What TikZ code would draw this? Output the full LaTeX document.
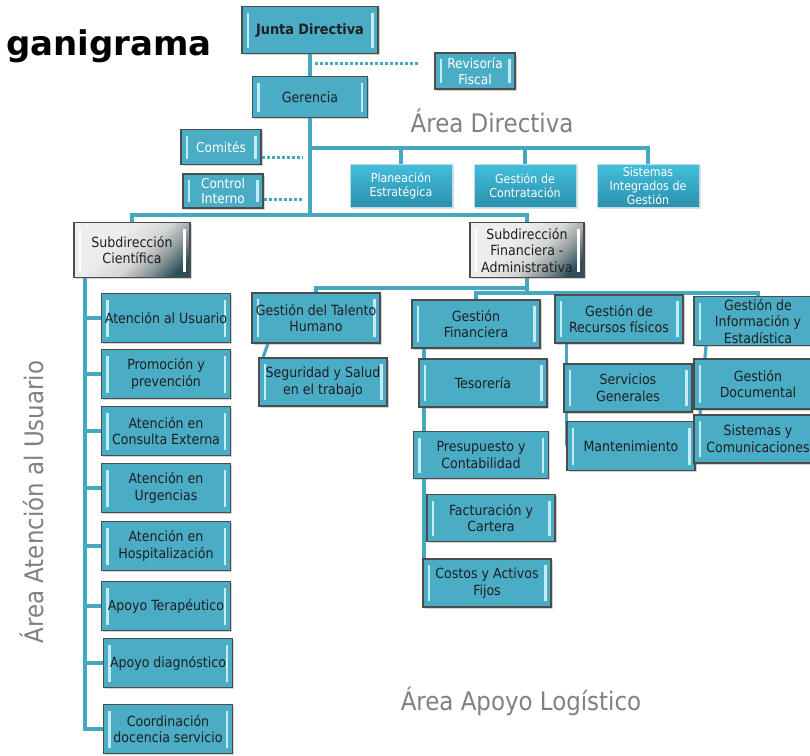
\documentclass[tikz,border=0pt]{standalone}
\usepackage{fontspec}
\usepackage{tikz}
\usetikzlibrary{positioning}
\usetikzlibrary{backgrounds}
\usetikzlibrary{shadows}
\newfontfamily\boxfont{DejaVu Sans Condensed}
\newfontfamily\titlefont{DejaVu Sans}
\definecolor{boxteal}{HTML}{4BACC6}
\definecolor{bevelcyan}{HTML}{C2ECF6}
\definecolor{linkteal}{HTML}{46A7C1}
\definecolor{areagray}{HTML}{808080}
\definecolor{dirtop}{HTML}{44BEDC}
\definecolor{dirbottom}{HTML}{2A8FAC}
\definecolor{subdark}{HTML}{2A4F59}
\pgfdeclareverticalshading{subshade}{100bp}{color(0bp)=(subdark); color(22bp)=(subdark); color(33bp)=(subdark!45!gray!70); color(45bp)=(gray!32); color(60bp)=(gray!15); color(100bp)=(gray!10)}
\tikzset{basic box/.style={draw,rectangle,align=center,inner sep=1pt}}
\tikzset{bevel/.style={path picture={
  \fill[#1] ([xshift=4.5pt,yshift=-6pt]path picture bounding box.north west)
    rectangle ([xshift=7pt,yshift=6pt]path picture bounding box.south west);
  \fill[#1] ([xshift=-4.5pt,yshift=-6pt]path picture bounding box.north east)
    rectangle ([xshift=-7pt,yshift=6pt]path picture bounding box.south east);
  }}}
\tikzset{unit box/.style={basic box,
                          draw=black!70,
                          line width=1.2pt,
                          fill=boxteal,
                          text=black!88,
                          minimum width=128pt,
                          minimum height=48pt,
                          font=\boxfont\fontsize{14}{16.5}\selectfont,
                          drop shadow={opacity=.35,shadow xshift=1.5pt,shadow yshift=-1.5pt},
                          bevel=bevelcyan}}
\tikzset{link/.style={draw=linkteal,line width=3.2pt}}
\tikzset{dotlink/.style={draw=linkteal,line width=3pt,dash pattern=on 3pt off 2pt}}
\newcommand{\areafont}{\boxfont\fontsize{25.5}{30}\selectfont}

\begin{document}
\begin{tikzpicture}
  [
    x=1pt,y=-1pt,
    small box/.style={unit box,
                      text=white,
                      minimum width=80pt,
                      minimum height=35pt,
                      font=\boxfont\fontsize{13.5}{15.5}\selectfont},
    dir box/.style={basic box,
                    draw=white!60!boxteal,
                    line width=.6pt,
                    top color=dirtop,
                    bottom color=dirbottom,
                    text=white,
                    minimum width=102pt,
                    minimum height=43pt,
                    font=\boxfont\fontsize{12.3}{14}\selectfont,
                    drop shadow={opacity=.25,shadow xshift=1.5pt,shadow yshift=-1.5pt}},
    sub box/.style={basic box,
                    draw=black!70,
                    line width=1.2pt,
                    shading=subshade,
                    shading angle=45,
                    text=black!88,
                    minimum width=116pt,
                    minimum height=55pt,
                    font=\boxfont\fontsize{14}{16.5}\selectfont,
                    drop shadow={opacity=.35,shadow xshift=1.5pt,shadow yshift=-1.5pt},
                    bevel=white!55},
    col box/.style={unit box,minimum width=129pt,minimum height=49pt},
  ]
    \useasboundingbox (0,0) rectangle (810,755);
    \clip (0,0) rectangle (810,755);

    % titles
    \node [anchor=base east,inner sep=0pt,font=\titlefont\bfseries\fontsize{34}{40}\selectfont] (title) at (212,55) {ganigrama};
    \node [text=areagray,font=\areafont] (areadir) at (492,121) {Área Directiva};
    \node [text=areagray,font=\areafont] (arealog) at (521,701) {Área Apoyo Logístico};
    \node [text=areagray,font=\areafont,rotate=90] (areausu) at (32,502) {Área Atención al Usuario};

    % direction
    \node [unit box,minimum width=136pt,minimum height=47pt,font=\boxfont\bfseries\fontsize{14.3}{16}\selectfont] (junta) at (310,30) {Junta Directiva};
    \node [unit box,minimum width=115pt,minimum height=41pt] (gerencia) at (310,97) {Gerencia};
    \node [small box,minimum height=36pt] (revisoria) at (475,71) {Revisoría\\Fiscal};
    \node [small box] (comites) at (221,147) {Comités};
    \node [small box,minimum height=34pt] (control) at (223,191) {Control\\Interno};
    \node [dir box] (planeacion) at (401,186) {Planeación\\Estratégica};
    \node [dir box] (contratacion) at (525,186) {Gestión de\\Contratación};
    \node [dir box] (sistemasig) at (648,186) {Sistemas\\Integrados de\\Gestión};

    % subdirections
    \node [sub box] (cientifica) at (132,250) {Subdirección\\Científica};
    \node [sub box,minimum width=114pt] (financiera) at (527,250) {Subdirección\\Financiera -\\Administrativa};

    % atencion al usuario
    \node [col box] (usuario) at (166,318) {Atención al Usuario};
    \node [col box] (promocion) at (166,374) {Promoción y\\prevención};
    \node [col box] (consulta) at (166,431) {Atención en\\Consulta Externa};
    \node [col box] (urgencias) at (166,488) {Atención en\\Urgencias};
    \node [col box] (hospital) at (166,546) {Atención en\\Hospitalización};
    \node [col box] (terapeutico) at (166,606) {Apoyo Terapéutico};
    \node [col box] (diagnostico) at (168,663) {Apoyo diagnóstico};
    \node [col box] (coordinacion) at (168,729) {Coordinación\\docencia servicio};

    % apoyo logistico
    \node [unit box,minimum height=50pt] (talento) at (316,318) {Gestión del Talento\\Humano};
    \node [unit box] (seguridad) at (323,382) {Seguridad y Salud\\en el trabajo};
    \node [unit box] (gfinanciera) at (476,324) {Gestión\\Financiera};
    \node [unit box] (tesoreria) at (483,383) {Tesorería};
    \node [unit box,minimum width=135pt,minimum height=47pt] (presupuesto) at (481,455) {Presupuesto y\\Contabilidad};
    \node [unit box,minimum height=47pt] (facturacion) at (491,518) {Facturación y\\Cartera};
    \node [unit box] (costos) at (487,583) {Costos y Activos\\Fijos};
    \node [unit box] (recursos) at (619,319) {Gestión de\\Recursos físicos};
    \node [unit box] (servicios) at (628,388) {Servicios\\Generales};
    \node [unit box,minimum height=49pt] (mantenimiento) at (631,446) {Mantenimiento};
    \node [unit box,minimum height=49pt] (informacion) at (758,321) {Gestión de\\Información y\\Estadística};
    \node [unit box,minimum height=50pt] (documental) at (758,384) {Gestión\\Documental};
    \node [unit box] (comunicaciones) at (758,439) {Sistemas y\\Comunicaciones};

    % bus points
    \coordinate (jg) at (310,63);
    \coordinate (dbus) at (310,148);
    \coordinate (gbus) at (310,215);
    \coordinate (cx) at ([xshift=-47pt]cientifica.south);
    \coordinate (fbus1) at (527,288);
    \coordinate (fbus2) at (527,293);

    % edges
    \begin{scope}[on background layer]
    \path [link] (junta) -- (gerencia);
    \path [link] (gerencia) -- (gbus);
    \path [link] (dbus) -| (planeacion);
    \path [link] (dbus) -| (contratacion);
    \path [link] (dbus) -| (sistemasig);
    \path [link] (gbus) -| (cientifica);
    \path [link] (gbus) -| (financiera);
    \path [dotlink] ([xshift=5pt]jg) -- ([xshift=-15pt]revisoria.west |- jg);
    \path [dotlink] ([yshift=-10pt]comites.east) -- ([xshift=-7pt,yshift=-10pt]comites.east -| dbus);
    \path [dotlink] ([yshift=-8pt]control.east) -- ([xshift=-7pt,yshift=-8pt]control.east -| dbus);

    \path [link] (cx) |- (coordinacion.west);
    \foreach \nm in {usuario,promocion,consulta,urgencias,hospital,terapeutico,diagnostico}
      \path [link] (cx |- \nm.west) -- (\nm.west);

    \path [link] (financiera) -- (fbus2);
    \path [link] (fbus1) -| (talento);
    \path [link] (fbus2) -| (gfinanciera);
    \path [link] (fbus2) -| (recursos);
    \path [link] (fbus2) -| (informacion);
    \path [link] ([xshift=-48pt]talento.south) -- ([xshift=-60pt]seguridad.north);
    \path [link] ([xshift=-52pt]gfinanciera.south) -- ([xshift=-52pt]gfinanciera.south |- costos.west);
    \path [link] (mantenimiento.west |- recursos.south) -- (mantenimiento.west);
    \path [link] ([xshift=-52pt]informacion.south) -- ([xshift=-58pt]comunicaciones.north);
    \end{scope}

  \end{tikzpicture}
\end{document}
